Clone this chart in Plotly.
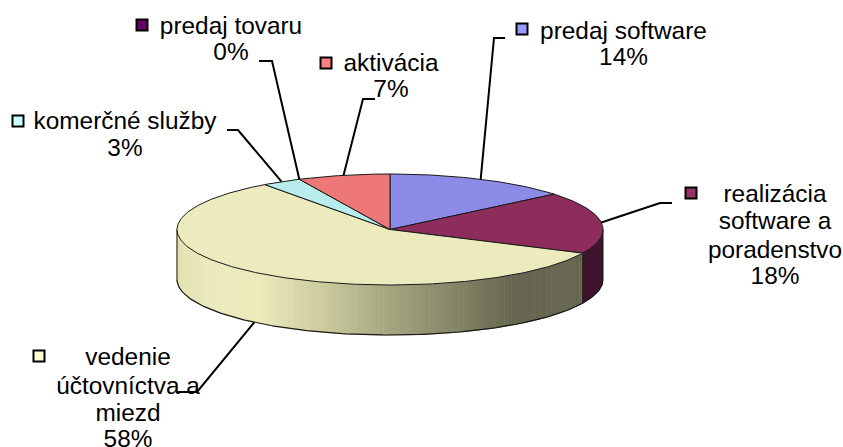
import numpy as np
import plotly.graph_objects as go

# --- data ---
categories = ["predaj software", "realizácia software a poradenstvo",
              "vedenie účtovníctva a miezd", "komerčné služby", "predaj tovaru", "aktivácia"]
values = [14, 18, 58, 3, 0, 7]
label_lines = [["predaj software", "14%"],
               ["realizácia", "software a", "poradenstvo", "18%"],
               ["vedenie", "účtovníctva a", "miezd", "58%"],
               ["komerčné služby", "3%"],
               ["predaj tovaru", "0%"],
               ["aktivácia", "7%"]]

# --- style / layout ---
top_colors = ["#8c8ce8", "#8c2d5c", "#ebebbd", "#b9ecec", "#560056", "#ee7777"]
key_colors = ["#9999ff", "#993366", "#ffffcc", "#ccffff", "#660066", "#ff8080"]
CX, CY, RX, RY, DEPTH = 390, 229.5, 213, 55.5, 50
key_pos = [(522, 29), (691, 193), (39, 356), (18, 121), (142, 25), (326, 63)]
text_x = [623.5, 775, 128, 125, 231, 391]
text_y = [[33, 59], [196, 223, 252, 278], [359, 388, 415, 441], [123, 150], [28, 54], [65, 91]]
leader_elbows = [[(505, 38), (494, 38)], [(672, 203), (660, 203)], [(178, 392), (197, 392)],
                 [(227, 130), (238, 130)], [(259, 61), (272, 61)], [(375, 99), (363, 99)]]
FONT = dict(family="Liberation Sans, Arial, sans-serif", size=24.4, color="#000000")
OUT = "#1a1a1a"


def ex(t):
    return CX + RX * np.sin(np.radians(t))


def ey(t, d=0):
    return CY - RY * np.cos(np.radians(t)) + d


def side_color(x):
    stops_x = [177, 215, 260, 320, 390, 450, 515, 590]
    r = [226, 235, 234, 205, 165, 135, 102, 102]
    g = [225, 235, 234, 205, 165, 135, 102, 102]
    b = [178, 189, 187, 160, 128, 105, 80, 80]
    return "rgb(%d,%d,%d)" % (np.interp(x, stops_x, r), np.interp(x, stops_x, g), np.interp(x, stops_x, b))


fig = go.Figure()
fr = np.cumsum([0] + values) * 3.6


def poly(xs, ys, fill, line=None, width=0):
    fig.add_trace(go.Scatter(x=list(xs), y=list(ys), mode="lines", fill="toself", fillcolor=fill,
                             line=dict(color=line or fill, width=width), hoverinfo="skip", showlegend=False))


def path(xs, ys, color="#000000", width=1.0):
    fig.add_trace(go.Scatter(x=list(xs), y=list(ys), mode="lines", line=dict(color=color, width=width),
                             hoverinfo="skip", showlegend=False))


# side walls
t_break = fr[2]
t = np.linspace(90, t_break, 30)
poly(np.r_[ex(t), ex(t[::-1])], np.r_[ey(t), ey(t[::-1], DEPTH)], "#3f152e", "#3f152e", 0.5)
edges = np.linspace(t_break, 270, 150)
for a, b in zip(edges[:-1], edges[1:]):
    t = np.linspace(a, b, 3)
    poly(np.r_[ex(t), ex(t[::-1])], np.r_[ey(t), ey(t[::-1], DEPTH)], side_color(ex((a + b) / 2)),
         side_color(ex((a + b) / 2)), 1)

t = np.linspace(90, 270, 181)
path(ex(t), ey(t, DEPTH), OUT, 1.2)
for tt in (90, t_break, 270):
    path([ex(tt), ex(tt)], [ey(tt), ey(tt, DEPTH)], OUT, 1)

# top surface
for i, v in enumerate(values):
    if v == 0:
        continue
    t = np.linspace(fr[i], fr[i + 1], max(4, int(v * 4)))
    poly(np.r_[CX, ex(t), CX], np.r_[CY, ey(t), CY], top_colors[i], OUT, 1)

# leader lines, ending at each slice's mid angle on the rim
mids = (fr[:-1] + fr[1:]) / 2
for i, m in enumerate(mids):
    d = DEPTH if 90 < m < 270 and ey(m) > CY else 0
    pts = leader_elbows[i] + [(ex(m), ey(m, d))]
    path([p[0] for p in pts], [p[1] for p in pts], "#000000", 2)

# legend keys
for (kx, ky), c in zip(key_pos, key_colors):
    fig.add_trace(go.Scatter(x=[kx], y=[ky], mode="markers",
                             marker=dict(symbol="square", size=11, color=c, line=dict(color="#000000", width=2)),
                             hoverinfo="skip", showlegend=False))

# labels
for lines, x, ys in zip(label_lines, text_x, text_y):
    fig.add_trace(go.Scatter(x=[x] * len(lines), y=ys, mode="text", text=lines, textposition="middle center",
                             textfont=FONT, hoverinfo="skip", showlegend=False, cliponaxis=False))

fig.update_layout(width=843, height=447, margin=dict(l=0, r=0, t=0, b=0), autosize=False,
                  paper_bgcolor="white", plot_bgcolor="white", showlegend=False,
                  xaxis=dict(range=[0, 843], visible=False, fixedrange=True),
                  yaxis=dict(range=[447, 0], visible=False, fixedrange=True))
fig.write_html("out.html", config=dict(displayModeBar=False),
               post_script="document.body.style.margin='0';document.body.style.overflow='hidden';")
